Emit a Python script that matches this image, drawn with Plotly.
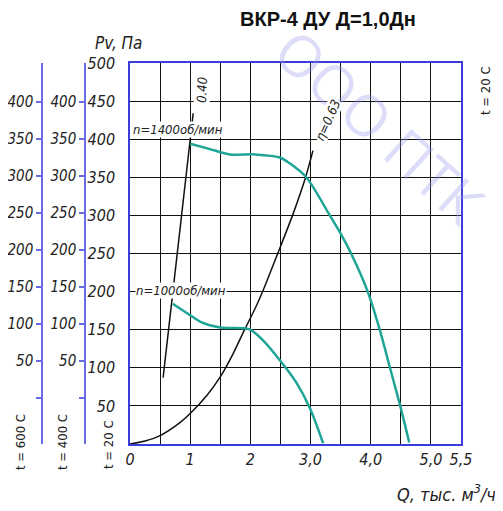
import plotly.graph_objects as go

# ---------------- data ----------------
title_text = "ВКР-4 ДУ Д=1,0Дн"

# fan curve n = 1400 rpm  (Q, thousand m3/h ; Pv, Pa at t = 20 C)
q_1400 = [1.00, 1.33, 1.66, 2.08, 2.49, 2.66, 2.93, 3.32, 3.50, 3.68, 3.95, 4.15, 4.32, 4.49, 4.64]
p_1400 = [394, 387, 380, 380, 376, 368, 350, 300, 276, 249, 200, 150, 100, 50, 2]

# fan curve n = 1000 rpm
q_1000 = [0.71, 1.00, 1.18, 1.50, 1.91, 2.00, 2.21, 2.49, 2.77, 2.99, 3.21]
p_1000 = [184, 169, 160, 153, 152, 150, 136, 110, 80, 47, 1]

# efficiency line eta = 0.63 (curved)
q_eta63 = [0.00, 0.25, 0.50, 0.83, 1.00, 1.28, 1.50, 1.71, 1.91, 2.11, 2.24, 2.44, 2.71, 2.91, 3.04]
p_eta63 = [0, 4, 11, 28, 40, 64, 88, 118, 151, 183, 207, 247, 302, 348, 385]

# efficiency line eta = 0.40 (straight)
q_eta40 = [0.55, 1.05]
p_eta40 = [87, 434]

x_tick_vals = [0, 0.5, 1, 1.5, 2, 2.5, 3, 3.5, 4, 4.5, 5, 5.5]
x_tick_text = ["0", "", "1", "", "2", "", "3,0", "", "4,0", "", "5,0", "5,5"]
y20_tick_vals = [0, 50, 100, 150, 200, 250, 300, 350, 400, 450, 500]
y20_tick_text = ["", "50", "100", "150", "200", "250", "300", "350", "400", "450", "500"]
yhot_tick_vals = [0, 50, 100, 150, 200, 250, 300, 350, 400]
yhot_tick_text = ["", "50", "100", "150", "200", "250", "300", "350", "400"]

# ---------------- layout geometry ----------------
OFF = 8                      # page body margin
W, H = 495, 503
ML = 2
PL, PR, PT, PB = 130 - OFF, 461 - OFF, 63 - OFF, 444 - OFF
MR, MT, MB = W - PR, PT, H - PB
PW, PH = W - ML - MR, H - MT - MB


def px_x(px):
    return (px - OFF - ML) / PW


def px_y(py):
    return (H - MB - (py - OFF)) / PH


BOX = "#3c3cd8"
AXB = "#6a6ae2"
TEAL = "#1fa596"
ITAL = "Liberation Sans Narrow, DejaVu Sans Condensed, Liberation Sans, sans-serif"
tick_font = dict(family=ITAL, size=16, color="#222222", style="italic")
hot_font = dict(family=ITAL, size=15, color="#222222", style="italic")

fig = go.Figure()
fig.add_trace(go.Scatter(x=q_eta63, y=p_eta63, mode="lines",
                         line=dict(color="#111111", width=1.5, shape="spline", smoothing=0.8),
                         hoverinfo="skip", showlegend=False))
fig.add_trace(go.Scatter(x=q_eta40, y=p_eta40, mode="lines", line=dict(color="#111111", width=1.5),
                         hoverinfo="skip", showlegend=False))
fig.add_trace(go.Scatter(x=q_1400, y=p_1400, mode="lines",
                         line=dict(color=TEAL, width=2.5, shape="spline", smoothing=0.8),
                         hoverinfo="skip", showlegend=False))
fig.add_trace(go.Scatter(x=q_1000, y=p_1000, mode="lines",
                         line=dict(color=TEAL, width=2.5, shape="spline", smoothing=0.8),
                         hoverinfo="skip", showlegend=False))
# dummy traces to carry the extra temperature axes
fig.add_trace(go.Scatter(x=[None], y=[None], yaxis="y2", showlegend=False, hoverinfo="skip"))
fig.add_trace(go.Scatter(x=[None], y=[None], yaxis="y3", showlegend=False, hoverinfo="skip"))

hot_range = [-62.2, 452.7]

fig.update_layout(
    width=W, height=H, template="none",
    margin=dict(l=ML, r=MR, t=MT, b=MB, autoexpand=False),
    paper_bgcolor="white", plot_bgcolor="white",
    showlegend=False,
    xaxis=dict(domain=[px_x(130), 1], range=[0, 5.5], tickvals=x_tick_vals, ticktext=x_tick_text,
               showgrid=True, gridcolor="#111111", gridwidth=1, zeroline=False,
               showline=True, linecolor=BOX, linewidth=1.5, mirror=True, ticks="",
               tickfont=tick_font, automargin=False, fixedrange=True),
    yaxis=dict(range=[0, 500], tickvals=y20_tick_vals, ticktext=y20_tick_text,
               showgrid=True, gridcolor="#111111", gridwidth=1, zeroline=False,
               showline=True, linecolor=BOX, linewidth=1.5, mirror=True, ticks="",
               ticklabelstandoff=10, tickfont=tick_font, automargin=False, fixedrange=True),
    yaxis2=dict(overlaying="y", anchor="free", position=px_x(42), side="left", range=hot_range,
                tickvals=yhot_tick_vals, ticktext=yhot_tick_text, showgrid=False, zeroline=False,
                showline=True, linecolor=AXB, linewidth=1.5, ticks="outside", ticklen=5, tickcolor=AXB,
                tickwidth=1.5, tickfont=hot_font, automargin=False, fixedrange=True),
    yaxis3=dict(overlaying="y", anchor="free", position=px_x(85), side="left", range=hot_range,
                tickvals=yhot_tick_vals, ticktext=yhot_tick_text, showgrid=False, zeroline=False,
                showline=True, linecolor=AXB, linewidth=1.5, ticks="outside", ticklen=5, tickcolor=AXB,
                tickwidth=1.5, tickfont=hot_font, automargin=False, fixedrange=True),
)

ann = []
# watermark
ann.append(dict(text="ООО ПТК", xref="paper", yref="paper", x=px_x(380), y=px_y(126), showarrow=False,
                textangle=42, font=dict(family="Open Sans, sans-serif", size=57, color="rgba(150,150,235,0.32)"),
                xanchor="center", yanchor="middle"))
# title
ann.append(dict(text="<b>" + title_text + "</b>", xref="paper", yref="paper", x=px_x(328), y=px_y(19),
                showarrow=False, font=dict(family="Liberation Sans, Arial, sans-serif", size=20, color="#111111"),
                xanchor="center", yanchor="middle"))
# axis titles
ann.append(dict(text="Pv, Па", xref="paper", yref="paper", x=px_x(93), y=px_y(43), showarrow=False,
                font=dict(family=ITAL, size=17, color="#222222", style="italic"), xanchor="left", yanchor="middle"))
ann.append(dict(text="Q, тыс. м<sup>3</sup>/ч", xref="paper", yref="paper", x=px_x(498), y=px_y(493),
                showarrow=False, font=dict(family=ITAL, size=18, color="#222222", style="italic"),
                xanchor="right", yanchor="middle"))
# temperature labels
up_font = dict(family="Liberation Sans Narrow, DejaVu Sans Condensed, sans-serif", size=13, color="#222222")
for txt, px, py in [("t = 600 C", 20, 442), ("t = 400 C", 62, 442), ("t = 20 C", 108, 445), ("t = 20 C", 485, 91)]:
    ann.append(dict(text=txt, xref="paper", yref="paper", x=px_x(px), y=px_y(py), showarrow=False,
                    textangle=-90, font=up_font, xanchor="center", yanchor="middle"))
# curve labels
lab_font = dict(family=ITAL, size=13, color="#222222", style="italic")
ann.append(dict(text="n=1400об/мин", xref="x", yref="y", x=0.04, y=401, showarrow=False, font=lab_font,
                xanchor="left", yanchor="bottom", bgcolor="white", borderpad=0))
ann.append(dict(text="n=1000об/мин", xref="x", yref="y", x=0.09, y=201, showarrow=False, font=lab_font,
                xanchor="left", yanchor="middle", bgcolor="white", borderpad=0))
ann.append(dict(text="0.40", xref="x", yref="y", x=1.2, y=465, showarrow=False, font=lab_font,
                textangle=-88, xanchor="center", yanchor="middle", bgcolor="white", borderpad=0))
ann.append(dict(text="η=0.63", xref="x", yref="y", x=3.28, y=425, showarrow=False, font=lab_font,
                textangle=-66, xanchor="center", yanchor="middle", bgcolor="white", borderpad=0))
fig.update_layout(annotations=ann)

fig.write_html("out.html")
